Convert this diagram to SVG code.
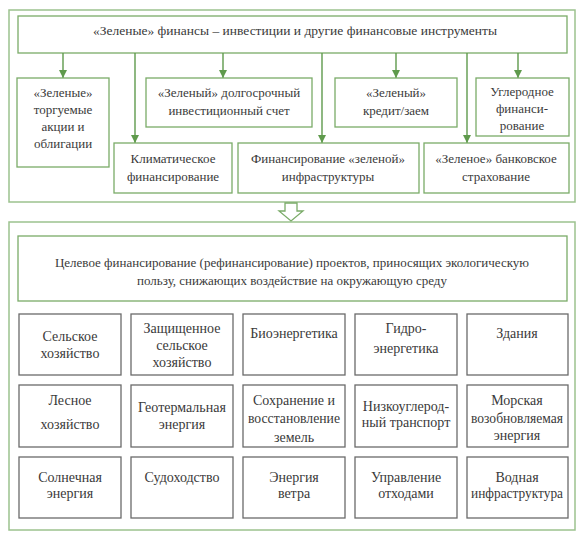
<svg xmlns="http://www.w3.org/2000/svg" width="582" height="535" viewBox="0 0 582 535" font-family="'Liberation Serif', 'DejaVu Serif', serif">
<style>
text{font-family:'Liberation Serif','DejaVu Serif',serif;font-size:13px;fill:#3a3a3a;text-anchor:middle}
.g text{font-size:14px}
.frame{fill:none;stroke:#9cc28e;stroke-width:1.5}
.gbox{fill:#fff;stroke:#7aab68;stroke-width:1.3}
.cell{fill:#fff;stroke:#6a6a6a;stroke-width:1.3}
.conn{stroke:#5f9a4c;stroke-width:1.4;fill:none;marker-end:url(#ah)}
</style>
<defs>
<marker id="ah" viewBox="0 0 10 10" refX="10" refY="5" markerWidth="8" markerHeight="8" markerUnits="userSpaceOnUse" orient="auto">
<path d="M0,0 L10,5 L0,10 z" fill="#5f9a4c"/>
</marker>
</defs>
<rect width="582" height="535" fill="#fff"/>
<g id="frame-top"><rect class="frame" x="9" y="10" width="566" height="192"/></g>
<g id="frame-bottom"><rect class="frame" x="9" y="222" width="566" height="308"/></g>
<g id="title"><rect class="gbox" x="18" y="16" width="549" height="37"/><text x="295" y="35" style="font-size:13.5px">«Зеленые» финансы – инвестиции и другие финансовые инструменты</text></g>
<g id="connectors">
<line class="conn" x1="63" y1="53" x2="63" y2="78"/>
<line class="conn" x1="135" y1="53" x2="135" y2="143"/>
<line class="conn" x1="223" y1="53" x2="223" y2="78"/>
<line class="conn" x1="322" y1="53" x2="322" y2="143"/>
<line class="conn" x1="396" y1="53" x2="396" y2="78"/>
<line class="conn" x1="467" y1="53" x2="467" y2="143"/>
<line class="conn" x1="518" y1="53" x2="518" y2="78"/>
<path d="M285,203 L297,203 L297,211 L303,211 L291,221 L279,211 L285,211 Z" fill="#fff" stroke="#7aab68" stroke-width="1.3"/>
</g>
<g id="n-stocks"><rect class="gbox" x="17" y="78" width="92" height="89"/><text x="63" y="97">«Зеленые»</text><text x="63" y="114">торгуемые</text><text x="63" y="131">акции и</text><text x="63" y="148">облигации</text></g>
<g id="n-account"><rect class="gbox" x="146" y="78" width="166" height="49"/><text x="229" y="97">«Зеленый» долгосрочный</text><text x="229" y="115">инвестиционный счет</text></g>
<g id="n-credit"><rect class="gbox" x="335" y="78" width="122" height="49"/><text x="396" y="97">«Зеленый»</text><text x="396" y="115">кредит/заем</text></g>
<g id="n-carbon"><rect class="gbox" x="476" y="78" width="93" height="58"/><text x="522" y="96">Углеродное</text><text x="522" y="113">финанси-</text><text x="522" y="130">рование</text></g>
<g id="n-climate"><rect class="gbox" x="114" y="143" width="118" height="50"/><text x="173" y="163">Климатическое</text><text x="173" y="181">финансирование</text></g>
<g id="n-infra"><rect class="gbox" x="238" y="143" width="181" height="50"/><text x="328" y="163">Финансирование «зеленой»</text><text x="328" y="181">инфраструктуры</text></g>
<g id="n-insurance"><rect class="gbox" x="424" y="143" width="145" height="50"/><text x="496" y="163">«Зеленое» банковское</text><text x="496" y="181">страхование</text></g>
<g id="n-target"><rect class="gbox" x="18" y="236" width="549" height="65"/><text x="292" y="267">Целевое финансирование (рефинансирование) проектов, приносящих экологическую</text><text x="292" y="285">пользу, снижающих воздействие на окружающую среду</text></g>
<g class="g">
<g id="c11"><rect class="cell" x="19" y="314" width="102" height="61"/><text x="70" y="341">Сельское</text><text x="70" y="358">хозяйство</text></g>
<g id="c12"><rect class="cell" x="131" y="314" width="102" height="61"/><text x="182" y="333">Защищенное</text><text x="182" y="350">сельское</text><text x="182" y="367">хозяйство</text></g>
<g id="c13"><rect class="cell" x="243" y="314" width="102" height="61"/><text x="294" y="338">Биоэнергетика</text></g>
<g id="c14"><rect class="cell" x="355" y="314" width="102" height="61"/><text x="406" y="333">Гидро-</text><text x="406" y="353">энергетика</text></g>
<g id="c15"><rect class="cell" x="467" y="314" width="101" height="61"/><text x="517" y="338">Здания</text></g>
<g id="c21"><rect class="cell" x="19" y="385" width="102" height="62"/><text x="70" y="405">Лесное</text><text x="70" y="429">хозяйство</text></g>
<g id="c22"><rect class="cell" x="131" y="385" width="102" height="62"/><text x="182" y="412">Геотермальная</text><text x="182" y="429">энергия</text></g>
<g id="c23"><rect class="cell" x="243" y="385" width="102" height="62"/><text x="294" y="405">Сохранение и</text><text x="294" y="423" textLength="92" lengthAdjust="spacingAndGlyphs">восстановление</text><text x="294" y="442">земель</text></g>
<g id="c24"><rect class="cell" x="355" y="385" width="102" height="62"/><text x="406" y="411">Низкоуглерод-</text><text x="406" y="427">ный транспорт</text></g>
<g id="c25"><rect class="cell" x="467" y="385" width="101" height="62"/><text x="517" y="405">Морская</text><text x="517" y="423" textLength="92" lengthAdjust="spacingAndGlyphs">возобновляемая</text><text x="517" y="440">энергия</text></g>
<g id="c31"><rect class="cell" x="19" y="457" width="102" height="61"/><text x="70" y="482">Солнечная</text><text x="70" y="498">энергия</text></g>
<g id="c32"><rect class="cell" x="131" y="457" width="102" height="61"/><text x="182" y="482">Судоходство</text></g>
<g id="c33"><rect class="cell" x="243" y="457" width="102" height="61"/><text x="294" y="482">Энергия</text><text x="294" y="498">ветра</text></g>
<g id="c34"><rect class="cell" x="355" y="457" width="102" height="61"/><text x="406" y="482">Управление</text><text x="406" y="498">отходами</text></g>
<g id="c35"><rect class="cell" x="467" y="457" width="101" height="61"/><text x="517" y="482">Водная</text><text x="517" y="498" textLength="92" lengthAdjust="spacingAndGlyphs">инфраструктура</text></g>
</g>
</svg>
